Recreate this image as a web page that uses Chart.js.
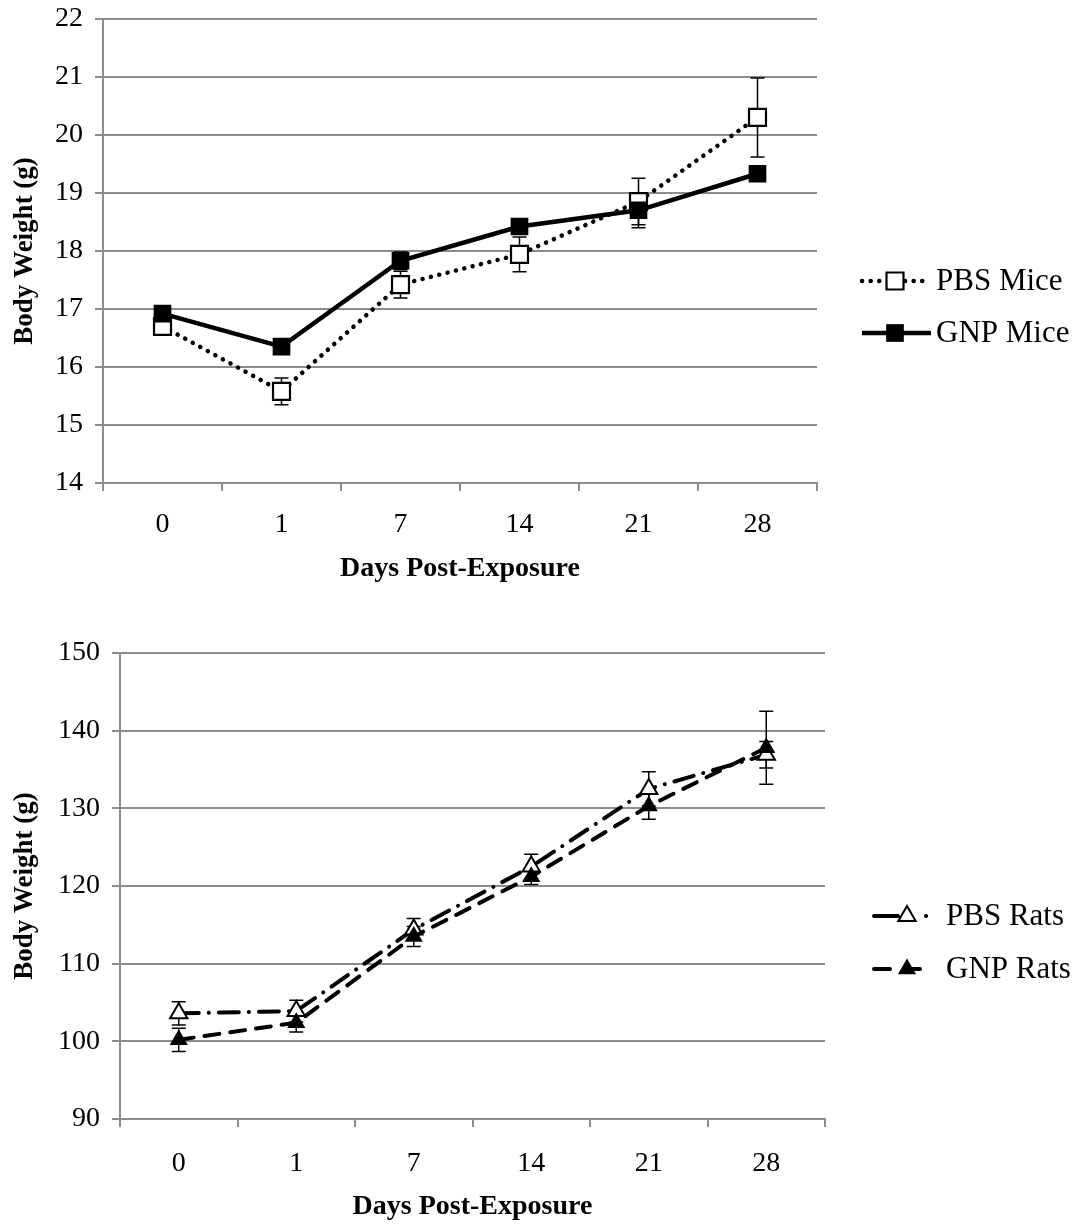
<!DOCTYPE html>
<html><head><meta charset="utf-8">
<script src="https://cdn.jsdelivr.net/npm/chart.js@4/dist/chart.umd.min.js"></script>
<style>
html,body{margin:0;padding:0;background:#fff;overflow:hidden;}
#w1{position:absolute;left:0;top:-10px;width:1073px;height:610px;}
#w2{position:absolute;left:0;top:600px;width:1073px;height:624px;}
</style></head><body>
<div id="w1"><canvas id="c1"></canvas></div>
<div id="w2"><canvas id="c2"></canvas></div>
<script>
// ---- data ----
const days = ['0', '1', '7', '14', '21', '28'];

const pbsMice    = [16.70, 15.58, 17.42, 17.94, 18.85, 20.30];
const pbsMiceErr = [0.15, 0.23, 0.23, 0.30, 0.40, 0.68];
const gnpMice    = [16.92, 16.35, 17.83, 18.42, 18.70, 19.33];
const gnpMiceErr = [0.12, 0.12, 0.15, 0.12, 0.30, 0.12];

const pbsRats    = [103.6, 103.9, 114.4, 122.5, 132.5, 136.9];
const pbsRatsErr = [1.5, 1.4, 1.4, 1.6, 2.2, 1.7];
const gnpRats    = [100.2, 102.4, 113.5, 121.2, 130.3, 137.8];
const gnpRatsErr = [1.5, 1.2, 1.3, 1.0, 1.7, 4.7];

const miceY = [14, 22, 1];   // min, max, step
const ratsY = [90, 150, 10];

const labels = {
  x: 'Days Post-Exposure',
  y: 'Body Weight (g)',
  pbsMice: 'PBS Mice', gnpMice: 'GNP Mice',
  pbsRats: 'PBS Rats', gnpRats: 'GNP Rats'
};

// ---- style ----
const FONT = 'Liberation Serif';
const GRID = '#8c8c8c';

function drawMarker(ctx, ds, x, y) {
  const r = ds.pointRadius;
  ctx.save();
  ctx.fillStyle = ds.pointBackgroundColor;
  ctx.strokeStyle = ds.pointBorderColor;
  ctx.lineWidth = ds.pointBorderWidth;
  ctx.setLineDash([]);
  ctx.beginPath();
  if (ds.pointStyle === 'rect') {
    const s = Math.SQRT1_2 * r;
    ctx.rect(x - s, y - s, 2 * s, 2 * s);
  } else {
    let a = 0;
    ctx.moveTo(x + Math.sin(a) * r, y - Math.cos(a) * r);
    a += 2 * Math.PI / 3;
    ctx.lineTo(x + Math.sin(a) * r, y - Math.cos(a) * r);
    a += 2 * Math.PI / 3;
    ctx.lineTo(x + Math.sin(a) * r, y - Math.cos(a) * r);
    ctx.closePath();
  }
  ctx.fill();
  if (ds.pointBorderWidth > 0) ctx.stroke();
  ctx.restore();
}

const errorBars = {
  id: 'errorBars',
  beforeDatasetsDraw(chart) {
    const ctx = chart.ctx, ys = chart.scales.y;
    chart.data.datasets.forEach((ds, i) => {
      if (!ds.errors) return;
      const meta = chart.getDatasetMeta(i);
      ctx.save();
      ctx.strokeStyle = '#000';
      ctx.lineWidth = 1.5;
      meta.data.forEach((pt, j) => {
        const v = ds.data[j], e = ds.errors[j];
        const yt = ys.getPixelForValue(v + e), yb = ys.getPixelForValue(v - e);
        const x = pt.x;
        ctx.beginPath();
        ctx.moveTo(x, yt); ctx.lineTo(x, yb);
        ctx.moveTo(x - 7, yt); ctx.lineTo(x + 7, yt);
        ctx.moveTo(x - 7, yb); ctx.lineTo(x + 7, yb);
        ctx.stroke();
      });
      ctx.restore();
    });
  }
};

const sideLegend = {
  id: 'sideLegend',
  afterDraw(chart, args, opts) {
    const ctx = chart.ctx;
    opts.items.forEach(it => {
      const ds = chart.data.datasets[it.ds];
      ctx.save();
      ctx.strokeStyle = '#000';
      ctx.lineWidth = ds.borderWidth;
      ctx.lineCap = ds.borderCapStyle;
      ctx.setLineDash(it.dash);
      ctx.beginPath();
      ctx.moveTo(opts.x0, it.y);
      ctx.lineTo(it.x1, it.y);
      ctx.stroke();
      ctx.restore();
      drawMarker(ctx, ds, opts.xm, it.y);
      ctx.save();
      ctx.fillStyle = '#000';
      ctx.font = '31px "' + FONT + '"';
      ctx.textBaseline = 'middle';
      ctx.textAlign = 'left';
      ctx.fillText(ds.label, opts.xt, it.y + 1);
      ctx.restore();
    });
  }
};

function scales(yr, leftW, bottomH, xTickPad, xTitlePad, yTickPad, yTitlePad) {
  return {
    x: {
      type: 'category', offset: true,
      grid: { offset: true, drawOnChartArea: false, drawTicks: true, tickLength: 8, color: GRID, lineWidth: 2 },
      border: { color: GRID, width: 2 },
      ticks: { color: '#000', font: { family: FONT, size: 28 }, padding: xTickPad, maxRotation: 0 },
      title: { display: true, text: labels.x, color: '#000',
               font: { family: FONT, size: 28, weight: 'bold' }, padding: { top: 0, bottom: xTitlePad } },
      afterFit(s) { s.height = bottomH; }
    },
    y: {
      min: yr[0], max: yr[1],
      grid: { color: GRID, lineWidth: 2, tickLength: 8, drawTicks: true },
      border: { color: GRID, width: 2 },
      ticks: { stepSize: yr[2], color: '#000', font: { family: FONT, size: 28 }, padding: yTickPad },
      title: { display: true, text: labels.y, color: '#000',
               font: { family: FONT, size: 27, weight: 'bold' }, padding: { top: yTitlePad, bottom: 0 } },
      afterFit(s) { s.width = leftW; }
    }
  };
}

const common = {
  responsive: true, maintainAspectRatio: false, animation: false,
  plugins: { legend: { display: false }, tooltip: { enabled: false } },
  elements: { line: { tension: 0 } }
};

// ---- Mice chart ----
new Chart(document.getElementById('c1'), {
  type: 'line',
  data: {
    labels: days,
    datasets: [
      { label: labels.pbsMice, data: pbsMice, errors: pbsMiceErr, order: 1,
        borderColor: '#000', borderWidth: 4.5, borderDash: [0.1, 8.5], borderCapStyle: 'round',
        pointStyle: 'rect', pointRadius: 12, pointBackgroundColor: '#fff', pointBorderColor: '#000', pointBorderWidth: 2.2 },
      { label: labels.gnpMice, data: gnpMice, errors: gnpMiceErr, order: 0,
        borderColor: '#000', borderWidth: 4.5, borderDash: [], borderCapStyle: 'butt',
        pointStyle: 'rect', pointRadius: 12.5, pointBackgroundColor: '#000', pointBorderColor: '#000', pointBorderWidth: 0 }
    ]
  },
  options: Object.assign({}, common, {
    layout: { padding: { top: 27, right: 256, left: 0, bottom: 0 } },
    scales: scales(miceY, 103, 117, 17, 14, 12, 9),
    plugins: Object.assign({}, common.plugins, {
      sideLegend: { x0: 862, xm: 895, xt: 936,
        items: [ { ds: 0, y: 291, x1: 928, dash: [0.1, 8.5] },
                 { ds: 1, y: 343, x1: 931, dash: [] } ] }
    })
  }),
  plugins: [errorBars, sideLegend]
});

// ---- Rats chart ----
new Chart(document.getElementById('c2'), {
  type: 'line',
  data: {
    labels: days,
    datasets: [
      { label: labels.pbsRats, data: pbsRats, errors: pbsRatsErr, order: 1,
        borderColor: '#000', borderWidth: 4, borderDash: [20, 10, 0.1, 10], borderCapStyle: 'round',
        pointStyle: 'triangle', pointRadius: 10, pointBackgroundColor: '#fff', pointBorderColor: '#000', pointBorderWidth: 2 },
      { label: labels.gnpRats, data: gnpRats, errors: gnpRatsErr, order: 0,
        borderColor: '#000', borderWidth: 4, borderDash: [15, 11], borderCapStyle: 'round',
        pointStyle: 'triangle', pointRadius: 10.5, pointBackgroundColor: '#000', pointBorderColor: '#000', pointBorderWidth: 0 }
    ]
  },
  options: Object.assign({}, common, {
    layout: { padding: { top: 53, right: 248, left: 0, bottom: 0 } },
    scales: scales(ratsY, 120, 105, 20, 0, 12, 9),
    plugins: Object.assign({}, common.plugins, {
      sideLegend: { x0: 874, xm: 907, xt: 946,
        items: [ { ds: 0, y: 316, x1: 929, dash: [24, 28, 0.1, 100] },
                 { ds: 1, y: 369, x1: 922, dash: [16, 14] } ] }
    })
  }),
  plugins: [errorBars, sideLegend]
});
</script>
</body></html>
